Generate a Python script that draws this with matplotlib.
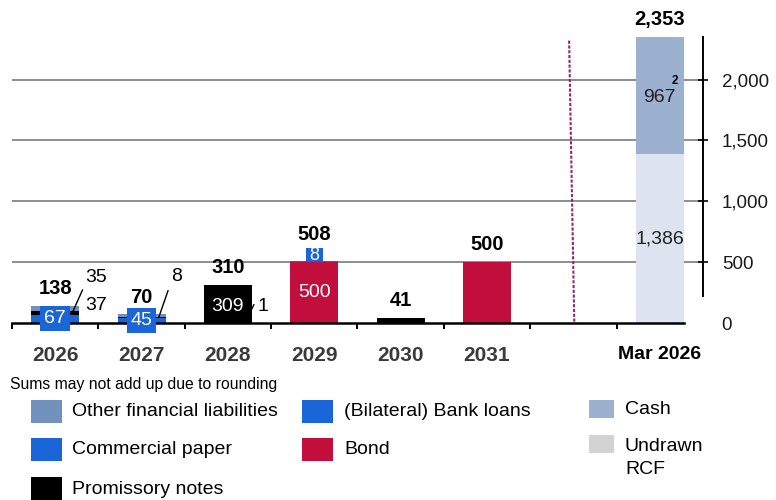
import matplotlib.pyplot as plt
from matplotlib.patches import Rectangle

plt.rcParams["font.family"] = ["Liberation Sans", "DejaVu Sans"]

# Maturity profile (EUR m), stacked bottom -> top
categories = ["2026", "2027", "2028", "2029", "2030", "2031", "", "Mar 2026"]
commercial_paper = [67, 45, 0, 0, 0, 0, 0, 0]
bond = [0, 0, 0, 500, 0, 500, 0, 0]
promissory_notes = [35, 8, 309, 0, 41, 0, 0, 0]
bank_loans = [0, 0, 0, 8, 0, 0, 0, 0]
other_fin_liab = [37, 17, 1, 0, 0, 0, 0, 0]
undrawn_rcf = [0, 0, 0, 0, 0, 0, 0, 1386]
cash = [0, 0, 0, 0, 0, 0, 0, 967]
totals = [138, 70, 310, 508, 41, 500, None, 2353]
yticks = [0, 500, 1000, 1500, 2000]

C_OTHER = "#7391bd"
C_BLUE = "#1a66d9"
C_BOND = "#c20e3c"
C_PN = "#000000"
C_CASH = "#9cb0cf"
C_RCF_BAR = "#dde4ef"
C_RCF_LEG = "#d3d3d3"
C_DASH = "#8e2a66"

W, H = 776, 500
fig = plt.figure(figsize=(W / 100, H / 100), dpi=100)

# axes placed in pixel terms: x from 12 to 703, y from 30 to 323
y0_px, ytop_px = 323, 30.5
ymax = (y0_px - ytop_px) / 0.1217
ax = fig.add_axes([12 / W, 1 - y0_px / H, (703 - 12) / W, (y0_px - ytop_px) / H])
ax.set_xlim(-0.5, 7.5)
ax.set_ylim(0, ymax)

x = list(range(len(categories)))
bw = 0.555

bottom = [0] * len(x)
for vals, col in [(commercial_paper, C_BLUE), (bond, C_BOND), (promissory_notes, C_PN),
                  (bank_loans, C_BLUE), (other_fin_liab, C_OTHER),
                  (undrawn_rcf, C_RCF_BAR), (cash, C_CASH)]:
    ax.bar(x, vals, bw, bottom=bottom, color=col, zorder=3, linewidth=0)
    bottom = [b + v for b, v in zip(bottom, vals)]

# gridlines
for t in yticks[1:]:
    ax.plot([-0.5, 7.5], [t, t], color="#7a7a7a", lw=1.2, zorder=1)

# spines / axes
for s in ["top", "left"]:
    ax.spines[s].set_visible(False)
ax.spines["bottom"].set_bounds(-0.5, 7.28)
ax.spines["bottom"].set_linewidth(1.8)
ax.spines["bottom"].set_zorder(4)
ax.spines["right"].set_bounds(224, 2353)
ax.spines["right"].set_linewidth(1.4)

ax.yaxis.tick_right()
ax.set_yticks(yticks)
ax.set_yticklabels([f"{t:,}" for t in yticks], fontsize=13.5, color="#1a1a1a")
ax.tick_params(axis="y", direction="inout", length=7, width=1.2, pad=10)
ax.yaxis.get_major_ticks()[0].tick2line.set_visible(False)

ax.set_xticks(x)
ax.set_xticklabels(categories, fontsize=15, fontweight="bold")
ax.tick_params(axis="x", length=0, pad=16.5)
for i, lab in enumerate(ax.get_xticklabels()):
    lab.set_color("#000000" if i == 7 else "#3a3a3a")
    if i == 7:
        lab.set_fontsize(14)
ax.set_xticks([i - 0.5 for i in range(8)], minor=True)
ax.tick_params(axis="x", which="minor", direction="out", length=4.5, width=1.4, color="black")

# separator between maturities and liquidity
ax.plot([5.95, 6.01], [2320, 0], color=C_DASH, lw=1.5, ls=(0, (1.5, 0.8)), zorder=2)

# totals above bars
for i, t in enumerate(totals):
    if t is None:
        continue
    off = 19 if i == 3 else 12.5
    ax.annotate(f"{t:,}", (i, t), xytext=(0, off), textcoords="offset points",
                ha="center", va="center", fontsize=14.5, fontweight="bold",
                color="black", annotation_clip=False)

# segment labels
box = dict(boxstyle="square,pad=0.2", fc=C_BLUE, ec="none")
ax.text(0, 35, "67", ha="center", va="center", fontsize=14, color="white", bbox=box, zorder=5)
ax.text(1, 19, "45", ha="center", va="center", fontsize=14, color="white", bbox=box, zorder=5)
ax.add_patch(Rectangle((2.90, 500), 0.20, 120, fc=C_BLUE, ec="none", zorder=5))
ax.text(3, 557, "8", ha="center", va="center", fontsize=13, color="white", zorder=6)
ax.text(3, 250, "500", ha="center", va="center", fontsize=14, color="white", zorder=5)
ax.text(2, 135, "309", ha="center", va="center", fontsize=14, color="white", zorder=5)

# callouts for thin segments
ax.text(0.474, 372, "35", ha="center", va="center", fontsize=14)
ax.text(0.474, 142, "37", ha="center", va="center", fontsize=14)
ax.plot([0.316, 0.205], [271, 95], color="black", lw=1, zorder=6)
ax.text(1.41, 380, "8", ha="center", va="center", fontsize=14)
ax.plot([1.306, 1.202], [265, 52], color="black", lw=1, zorder=6)
ax.text(2.40, 135, "1", ha="center", va="center", fontsize=14)
ax.plot([2.266, 2.30], [101, 150], color="black", lw=1, zorder=6)

ax.text(7, 693, "1,386", ha="center", va="center", fontsize=14, color="#222222", zorder=5)
ax.text(7, 1856, "967", ha="center", va="center", fontsize=14, color="#222222", zorder=5)
ax.text(7.17, 1990, "2", ha="center", va="center", fontsize=8.5, fontweight="bold", zorder=5)


# legend / footnote in pixel coordinates
def fx(px):
    return px / W


def fy(py):
    return 1 - py / H


fig.text(fx(10), fy(385), "Sums may not add up due to rounding", fontsize=11.3,
         ha="left", va="center")

legend_items = [
    (31, 400, 31, 23, C_OTHER, 72, 412, "Other financial liabilities"),
    (31, 438, 31, 23, C_BLUE, 72, 450, "Commercial paper"),
    (31, 477, 31, 23, C_PN, 72, 489, "Promissory notes"),
    (302, 400, 31, 23, C_BLUE, 344, 412, "(Bilateral) Bank loans"),
    (302, 438, 31, 23, C_BOND, 344, 450, "Bond"),
    (589, 400, 25, 18, C_CASH, 625, 410, "Cash"),
    (589, 435, 25, 18, C_RCF_LEG, 625, 458, "Undrawn\nRCF"),
]
for px, py, pw, ph, col, tx, ty, label in legend_items:
    fig.patches.append(Rectangle((fx(px), fy(py + ph)), pw / W, ph / H,
                                 transform=fig.transFigure, fc=col, ec="none"))
    fig.text(fx(tx), fy(ty), label, fontsize=14, ha="left", va="center",
             linespacing=1.45)

fig.savefig("out.png", dpi=100)
